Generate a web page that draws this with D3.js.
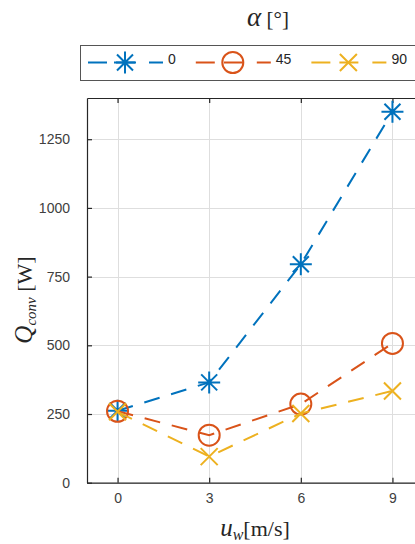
<!DOCTYPE html>
<html>
<head>
<meta charset="utf-8">
<script src="https://cdn.jsdelivr.net/npm/d3@7"></script>
<style>
  html, body { margin: 0; padding: 0; background: #fff; }
  svg { display: block; }
</style>
</head>
<body>
<svg id="chart" width="415" height="544"></svg>
<script>
// Wind speed u_w [m/s] on the x axis
const windSpeeds = [0, 3, 6, 9];
// Convective heat loss Q_conv [W] for each inclination angle alpha
const seriesNames = ["0", "45", "90"];
const q0 = [262, 365, 795, 1350];
const q45 = [260, 173, 286, 507];
const q90 = [258, 95, 252, 334];
const xTicks = [0, 3, 6, 9];
const yTicks = [0, 250, 500, 750, 1000, 1250];

const colors = ["#0072BD", "#D95319", "#EDB120"];
const markers = ["star", "circle", "cross"];
const seriesValues = [q0, q45, q90];

const svg = d3.select("#chart");
const axisColor = "#262626";
const tickFont = "'Liberation Sans', Arial, sans-serif";

const plot = { left: 87, top: 98, right: 423, bottom: 482.7 };
const x = d3.scaleLinear().domain([-1, 10]).range([plot.left, plot.right]);
const y = d3.scaleLinear().domain([0, 1400]).range([plot.bottom, plot.top]);

// grid
const grid = svg.append("g").attr("stroke", "#dedede").attr("stroke-width", 1);
grid.selectAll("line.v").data(xTicks).join("line")
  .attr("x1", d => Math.round(x(d)) + 0.5).attr("x2", d => Math.round(x(d)) + 0.5)
  .attr("y1", plot.top).attr("y2", plot.bottom);
grid.selectAll("line.h").data(yTicks).join("line")
  .attr("y1", d => Math.round(y(d)) + 0.5).attr("y2", d => Math.round(y(d)) + 0.5)
  .attr("x1", plot.left).attr("x2", plot.right);

// axes (ticks pointing inward)
function styleAxis(g) {
  g.select(".domain").attr("stroke", axisColor).attr("stroke-width", 1.2);
  g.selectAll(".tick line").attr("stroke", axisColor).attr("stroke-width", 1.2);
  g.selectAll(".tick text").attr("fill", "#404040")
    .style("font-family", tickFont).style("font-size", "14px");
}
const fmt = d3.format("d");
svg.append("g").attr("transform", `translate(0,${plot.bottom})`)
  .call(d3.axisBottom(x).tickValues(xTicks).tickFormat(fmt).tickSizeInner(-5).tickSizeOuter(0).tickPadding(10))
  .call(styleAxis);
svg.append("g").attr("transform", `translate(${plot.left},0)`)
  .call(d3.axisLeft(y).tickValues(yTicks).tickFormat(fmt).tickSizeInner(-5).tickSizeOuter(0).tickPadding(17))
  .call(styleAxis);
svg.append("g").attr("transform", `translate(0,${plot.top})`)
  .call(d3.axisTop(x).tickValues(xTicks).tickSizeInner(-5).tickSizeOuter(0).tickFormat(""))
  .call(styleAxis);
svg.append("g").attr("transform", `translate(${plot.right},0)`)
  .call(d3.axisRight(y).tickValues(yTicks).tickSizeInner(-5).tickSizeOuter(0).tickFormat(""))
  .call(styleAxis);

// marker shapes
function markerPath(type) {
  if (type === "star") {
    const a = 11, b = 8;
    return `M0,${-a}V${a}M${-a},0H${a}M${-b},${-b}L${b},${b}M${-b},${b}L${b},${-b}`;
  }
  const c = 8.5;
  return `M${-c},${-c}L${c},${c}M${-c},${c}L${c},${-c}`;
}
function drawMarker(g, type, color) {
  if (type === "circle") {
    g.append("circle").attr("r", 10.5).attr("fill", "none")
      .attr("stroke", color).attr("stroke-width", 2);
  } else {
    g.append("path").attr("d", markerPath(type)).attr("fill", "none")
      .attr("stroke", color).attr("stroke-width", 2);
  }
}

// series
const line = d3.line().x(d => x(d[0])).y(d => y(d[1]));
seriesValues.forEach((vals, i) => {
  const pts = windSpeeds.map((w, j) => [w, vals[j]]);
  const g = svg.append("g");
  g.append("path").attr("d", line(pts)).attr("fill", "none")
    .attr("stroke", colors[i]).attr("stroke-width", 2)
    .attr("stroke-dasharray", "16,12");
  pts.forEach(p => {
    const m = g.append("g").attr("transform", `translate(${x(p[0])},${y(p[1])})`);
    drawMarker(m, markers[i], colors[i]);
  });
});

// legend
const legend = svg.append("g");
legend.append("rect").attr("x", 80.5).attr("y", 45.5).attr("width", 360).attr("height", 35)
  .attr("fill", "#fff").attr("stroke", "#555").attr("stroke-width", 1);
let lx = 88;
const ly = 62.5;
seriesNames.forEach((name, i) => {
  const g = legend.append("g").attr("transform", `translate(${lx},${ly})`);
  g.append("line").attr("x1", 0).attr("x2", 75).attr("y1", 0).attr("y2", 0)
    .attr("stroke", colors[i]).attr("stroke-width", 2).attr("stroke-dasharray", "19,9,19,14,14");
  const m = g.append("g").attr("transform", "translate(37,0)");
  drawMarker(m, markers[i], colors[i]);
  const t = g.append("text").attr("x", 80).attr("y", 1).text(name)
    .attr("fill", "#262626").style("font-family", tickFont).style("font-size", "14px");
  lx += 80 + t.node().getComputedTextLength() + 20;
});

// legend title
const title = svg.append("text").attr("x", 268).attr("y", 26).attr("text-anchor", "middle")
  .attr("fill", "#262626").style("font-family", "'Liberation Serif', serif");
title.append("tspan").style("font-style", "italic").style("font-size", "27px").text("α");
title.append("tspan").style("font-size", "21px").text(" [°]");

// x axis label
const xl = svg.append("text").attr("x", 255).attr("y", 536).attr("text-anchor", "middle")
  .attr("fill", "#262626").style("font-family", "'Liberation Serif', serif");
xl.append("tspan").style("font-style", "italic").style("font-size", "25px").text("u");
xl.append("tspan").style("font-style", "italic").style("font-size", "16px").attr("dy", 4).text("w");
xl.append("tspan").style("font-size", "22px").attr("dy", -4).text("[m/s]");

// y axis label
const yl = svg.append("text").attr("transform", "translate(32,300) rotate(-90)")
  .attr("text-anchor", "middle").attr("fill", "#262626")
  .style("font-family", "'Liberation Serif', serif");
yl.append("tspan").style("font-style", "italic").style("font-size", "25px").text("Q");
yl.append("tspan").style("font-style", "italic").style("font-size", "15px").attr("dy", 4).text("conv");
yl.append("tspan").style("font-size", "22px").attr("dy", -4).text(" [W]");
</script>
</body>
</html>
